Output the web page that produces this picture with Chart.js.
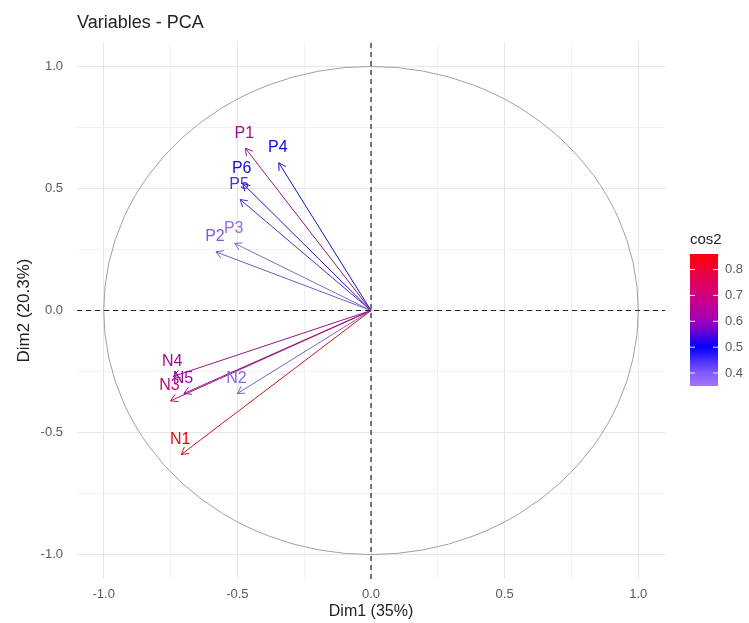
<!DOCTYPE html>
<html>
<head>
<meta charset="utf-8">
<script src="https://cdn.jsdelivr.net/npm/chart.js@4/dist/chart.umd.min.js"></script>
<style>
  body { margin: 0; background: #fff; }
  #pca { display: block; }
</style>
</head>
<body>
<canvas id="pca" width="749" height="623"></canvas>
<script>
// variables and their coordinates on Dim1 / Dim2
const varNames = ["P1", "P2", "P3", "P4", "P5", "P6", "N1", "N2", "N3", "N4", "N5"];
const dim1 = [-0.47, -0.58, -0.51, -0.345, -0.49, -0.48, -0.71, -0.50, -0.75, -0.74, -0.70];
const dim2 = [0.665, 0.24, 0.275, 0.605, 0.455, 0.52, -0.59, -0.34, -0.37, -0.27, -0.34];
const cos2 = [0.65, 0.39, 0.35, 0.50, 0.45, 0.51, 0.86, 0.37, 0.70, 0.63, 0.61];

const tickVals = [-1, -0.75, -0.5, -0.25, 0, 0.25, 0.5, 0.75, 1];
const legendTicks = [0.4, 0.5, 0.6, 0.7, 0.8];

const cosMin = Math.min(...cos2);
const cosMax = Math.max(...cos2);

// gradient2 (low white, mid blue, high red, midpoint 0.5), Lab-like stops
const stops = [
  [0, [255, 255, 255]], [0.125, [220, 196, 255]], [0.25, [178, 139, 255]],
  [0.375, [125, 81, 255]], [0.5, [0, 0, 255]], [0.625, [154, 0, 194]],
  [0.75, [201, 0, 137]], [0.875, [232, 0, 80]], [1, [255, 0, 0]]
];
const spread = Math.max(0.5 - cosMin, cosMax - 0.5);
const cosRgb = (v) => {
  let p = 0.5 + (v - 0.5) / (2 * spread);
  p = Math.max(0, Math.min(1, p));
  for (let i = 1; i < stops.length; i++) {
    if (p <= stops[i][0]) {
      const a = stops[i - 1], b = stops[i];
      const t = (p - a[0]) / (b[0] - a[0]);
      return a[1].map((x, k) => x + (b[1][k] - x) * t);
    }
  }
  return [255, 0, 0];
};
// mix = share of dark grey, the marks look a bit duller than the bar
const cosColor = (v, mix = 0) => {
  const c = cosRgb(v).map(x => Math.round(x * (1 - mix) + 70 * mix));
  return "rgb(" + c.join(",") + ")";
};

const fontFam = "'Liberation Sans', Arial, sans-serif";

const datasets = [
  { data: [{ x: -1.1, y: 0 }, { x: 1.1, y: 0 }], borderColor: "#222", borderWidth: 1.2, borderDash: [5, 4] },
  { data: [{ x: 0, y: -1.1 }, { x: 0, y: 1.1 }], borderColor: "#222", borderWidth: 1.2, borderDash: [5, 4] }
];
varNames.forEach((n, i) => {
  datasets.push({
    label: n,
    data: [{ x: 0, y: 0 }, { x: dim1[i], y: dim2[i] }],
    borderColor: cosColor(cos2[i], 0.3),
    borderWidth: 1
  });
});
datasets.forEach(d => { d.showLine = true; d.pointRadius = 0; d.fill = false; });

const pcaDecor = {
  id: "pcaDecor",
  beforeDatasetsDraw(chart) {
    const { ctx, scales: { x, y } } = chart;
    const cx = x.getPixelForValue(0), cy = y.getPixelForValue(0);
    const rx = x.getPixelForValue(1) - cx, ry = cy - y.getPixelForValue(1);
    ctx.save();
    ctx.strokeStyle = "#a0a0a0";
    ctx.lineWidth = 1;
    ctx.beginPath();
    ctx.ellipse(cx, cy, rx, ry, 0, 0, Math.PI * 2);
    ctx.stroke();
    ctx.restore();
  },
  afterDatasetsDraw(chart) {
    const { ctx, scales: { x, y } } = chart;
    const ox = x.getPixelForValue(0), oy = y.getPixelForValue(0);
    ctx.save();
    // arrow heads + labels
    varNames.forEach((n, i) => {
      const px = x.getPixelForValue(dim1[i]), py = y.getPixelForValue(dim2[i]);
      const ang = Math.atan2(py - oy, px - ox);
      ctx.strokeStyle = cosColor(cos2[i], 0.3);
      ctx.lineWidth = 1;
      ctx.beginPath();
      [Math.PI / 6, -Math.PI / 6].forEach(d => {
        ctx.moveTo(px, py);
        ctx.lineTo(px - 8 * Math.cos(ang + d), py - 8 * Math.sin(ang + d));
      });
      ctx.stroke();
      ctx.fillStyle = cosColor(cos2[i], 0.15);
      ctx.font = "16px " + fontFam;
      ctx.textAlign = "center";
      ctx.textBaseline = "middle";
      ctx.fillText(n, px - 1, py - 15);
    });
    ctx.restore();
  },
  afterDraw(chart) {
    const { ctx, chartArea } = chart;
    ctx.save();
    // title
    ctx.fillStyle = "#222";
    ctx.font = "18px " + fontFam;
    ctx.textAlign = "left";
    ctx.textBaseline = "middle";
    ctx.fillText("Variables - PCA", chartArea.left, 23);

    // colour bar legend
    const bx = 690, bw = 28, bTop = 254, bBot = 386;
    const vy = v => bBot - (v - cosMin) / (cosMax - cosMin) * (bBot - bTop);
    const grad = ctx.createLinearGradient(0, bBot, 0, bTop);
    for (let k = 0; k <= 20; k++) {
      const v = cosMin + (cosMax - cosMin) * k / 20;
      grad.addColorStop(k / 20, cosColor(v));
    }
    ctx.fillStyle = grad;
    ctx.fillRect(bx, bTop, bw, bBot - bTop);
    ctx.fillStyle = "#222";
    ctx.font = "15px " + fontFam;
    ctx.fillText("cos2", bx, 240);
    ctx.font = "13px " + fontFam;
    legendTicks.forEach(v => {
      const ty = vy(v);
      ctx.strokeStyle = "rgba(255,255,255,0.9)";
      ctx.lineWidth = 1;
      ctx.beginPath();
      ctx.moveTo(bx, ty); ctx.lineTo(bx + 5, ty);
      ctx.moveTo(bx + bw - 5, ty); ctx.lineTo(bx + bw, ty);
      ctx.stroke();
      ctx.fillStyle = "#5a5a5a";
      ctx.fillText(v.toFixed(1), bx + bw + 7, ty);
    });
    ctx.restore();
  }
};

const isMajor = v => Math.abs(v * 2 - Math.round(v * 2)) < 1e-6;

const axisCommon = (titleText, fitProp, fitSize) => ({
  type: "linear",
  min: -1.1,
  max: 1.1,
  afterBuildTicks: s => { s.ticks = tickVals.map(v => ({ value: v })); },
  afterFit: s => { s[fitProp] = fitSize; },
  border: { display: false },
  grid: {
    drawTicks: false,
    color: c => isMajor(c.tick.value) ? "#e6e6e6" : "#f1f1f1",
    lineWidth: 1
  },
  ticks: {
    color: "#5a5a5a",
    font: { family: fontFam, size: 13 },
    autoSkip: false,
    maxRotation: 0,
    callback: v => isMajor(v) ? v.toFixed(1) : ""
  },
  title: {
    display: true,
    text: titleText,
    color: "#222",
    font: { family: fontFam, size: 16 }
  }
});

const xAxis = axisCommon("Dim1 (35%)", "height", 44);
xAxis.ticks.padding = 8;
xAxis.title.padding = { top: 0, bottom: 2 };
const yAxis = axisCommon("Dim2 (20.3%)", "width", 69);
yAxis.ticks.padding = 14;
yAxis.title.padding = { top: 6, bottom: 0 };
yAxis.title.font = { family: fontFam, size: 17 };

new Chart(document.getElementById("pca"), {
  type: "scatter",
  data: { datasets: datasets },
  options: {
    responsive: false,
    animation: false,
    layout: { padding: { left: 8, right: 84, top: 42, bottom: 0 } },
    plugins: {
      legend: { display: false },
      tooltip: { enabled: false }
    },
    scales: { x: xAxis, y: yAxis }
  },
  plugins: [pcaDecor]
});
</script>
</body>
</html>
